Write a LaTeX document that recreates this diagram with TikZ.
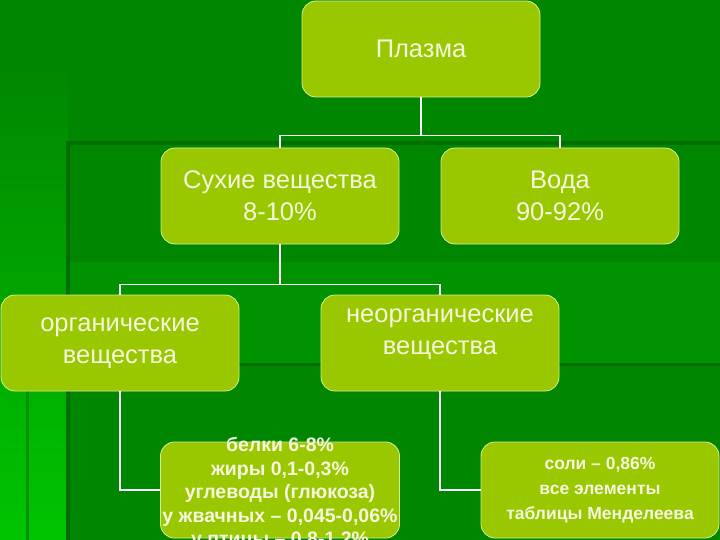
\documentclass[tikz,border=0pt]{standalone}
\usepackage{fontspec}
\setmainfont{Liberation Sans}
\usetikzlibrary{positioning,calc}
\definecolor{bggreen}{RGB}{0,134,0}
\definecolor{bgband}{RGB}{0,146,0}
\definecolor{bgdark}{RGB}{0,110,0}
\definecolor{bglight}{RGB}{0,196,0}
\definecolor{boxgreen}{RGB}{153,200,0}
\definecolor{boxline}{RGB}{214,236,150}
\definecolor{boxtext}{RGB}{246,246,222}

\begin{document}
\begin{tikzpicture}[x=1pt,y=-1pt,
  box/.style={draw=boxline,line width=0.8pt,rounded corners=14pt,fill=boxgreen,text=boxtext,
    minimum width=238pt,minimum height=96pt,align=center,inner sep=2pt},
  big/.style={font=\fontsize{25.5}{32}\selectfont},
  small/.style={font=\bfseries\fontsize{19.5}{23.5}\selectfont},
  smaller/.style={font=\bfseries\fontsize{17.5}{25}\selectfont},
  link/.style={draw=white,line width=1.6pt}]
\useasboundingbox (0,0) rectangle (720,540);
\clip (0,0) rectangle (720,540);
% background of the slide
\fill[bggreen] (0,0) rectangle (720,540);
\shade[top color=bggreen,bottom color=bglight] (0,60) rectangle (68,540);
\fill[bgband] (70,262) rectangle (720,363);
\fill[bgdark] (66,141) rectangle (720,145);
\fill[bgdark] (66,141) rectangle (70,540);
\fill[bgdark!60!bglight] (26,380) rectangle (29,540);
\fill[bgdark] (70,363) rectangle (720,366);
% boxes
\node[box,big] (plasma) at (421,49) {Плазма};
\node[box,big] (dry) at (280,196) {Сухие вещества\\8-10\%};
\node[box,big] (water) at (560,196) {Вода\\90-92\%};
\node[box,big] (org) at (120,343) {органические\\вещества};
\node[box,big] (inorg) at (440,343) {неорганические\\вещества\\[-10pt]\mbox{}};
\node[box,small] (fats) at (280,490) {\smash{\raisebox{-9pt}{\begin{tabular}{@{}c@{}}белки 6-8\%\\жиры 0,1-0,3\%\\углеводы (глюкоза)\\у жвачных – 0,045-0,06\%\\у птицы – 0,8-1,2\%\end{tabular}}}};
\node[box,smaller] (salts) at (600,490) {соли – 0,86\%\\все элементы\\таблицы Менделеева};
% connectors
\draw[link] (plasma.south) -- ++(0,38) coordinate (t1);
\draw[link] (dry.north) |- (t1) -| (water.north);
\draw[link] (dry.south) -- ++(0,40) coordinate (t2);
\draw[link] (org.north) |- (t2) -| (inorg.north);
\draw[link] (org.south) |- (fats.west);
\draw[link] (inorg.south) |- (salts.west);
\end{tikzpicture}
\end{document}
